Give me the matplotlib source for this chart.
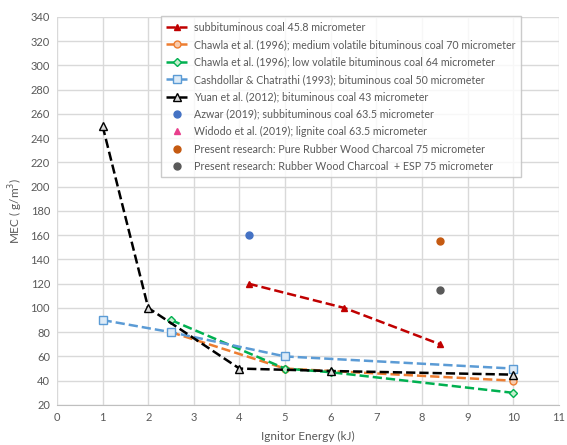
import numpy as np
import matplotlib.pyplot as plt

plt.rcParams['font.family'] = ['Lato', 'DejaVu Sans']

# dati
x_sub = [4.2, 6.3, 8.4]
y_sub = [120, 100, 70]
x_med = [2.5, 5, 10]
y_med = [80, 50, 40]
x_low = [2.5, 5, 6, 10]
y_low = [90, 50, 47, 30]
x_cash = [1, 2.5, 5, 10]
y_cash = [90, 80, 60, 50]
x_yuan = [1, 2, 4, 6, 10]
y_yuan = [250, 100, 50, 48, 45]
x_azwar = [4.2]
y_azwar = [160]
x_widodo = []
y_widodo = []
x_pure = [8.4]
y_pure = [155]
x_esp = [8.4]
y_esp = [115]

etichette = [
    "subbituminous coal 45.8 micrometer",
    "Chawla et al. (1996); medium volatile bituminous coal 70 micrometer",
    "Chawla et al. (1996); low volatile bituminous coal 64 micrometer",
    "Cashdollar & Chatrathi (1993); bituminous coal 50 micrometer",
    "Yuan et al. (2012); bituminous coal 43 micrometer",
    "Azwar (2019); subbituminous coal 63.5 micrometer",
    "Widodo et al. (2019); lignite coal 63.5 micrometer",
    "Present research: Pure Rubber Wood Charcoal 75 micrometer",
    "Present research: Rubber Wood Charcoal  + ESP 75 micrometer",
]

fig = plt.figure(figsize=(5.67, 4.45), dpi=100)
ax = fig.add_axes([0.1005, 0.09, 0.885, 0.872])

ax.plot(x_sub, y_sub, color="#C00000", ls="--", lw=1.8, marker="^", ms=5,
        label=etichette[0])
ax.plot(x_med, y_med, color="#ED7D31", ls="--", lw=1.8, marker="o", ms=5,
        mfc="#F8CBAD", label=etichette[1])
ax.plot(x_low, y_low, color="#00B050", ls="--", lw=1.8, marker="D", ms=4,
        mfc="#C6EFCE", label=etichette[2])
ax.plot(x_cash, y_cash, color="#5B9BD5", ls="--", lw=1.8, marker="s", ms=6,
        mfc="#DDEBF7", label=etichette[3])
ax.plot(x_yuan, y_yuan, color="#000000", ls="--", lw=1.8, marker="^", ms=6,
        mfc="#D9D9D9", label=etichette[4])
ax.plot(x_azwar, y_azwar, ls="none", marker="o", ms=5, color="#4472C4",
        label=etichette[5])
ax.plot(x_widodo, y_widodo, ls="none", marker="^", ms=5, color="#E83E8C",
        label=etichette[6])
ax.plot(x_pure, y_pure, ls="none", marker="o", ms=5, color="#C55A11",
        label=etichette[7])
ax.plot(x_esp, y_esp, ls="none", marker="o", ms=5, color="#595959",
        label=etichette[8])

ax.set_xlim(0, 11)
ax.set_ylim(20, 340)
ax.set_xticks(np.arange(0, 12, 1))
ax.set_yticks(np.arange(20, 341, 20))
ax.grid(True, color="#D9D9D9", lw=1)
ax.set_axisbelow(True)
for s in ["top", "right", "left"]:
    ax.spines[s].set_visible(False)
ax.spines["bottom"].set_color("#BFBFBF")
ax.tick_params(length=0, labelsize=8, colors="#595959", pad=5)
ax.set_xlabel("Ignitor Energy (kJ)", fontsize=8.5, color="#595959", labelpad=6)
ax.set_ylabel("MEC ( g/m$^3$)", fontsize=8.5, color="#595959", labelpad=4)

leg = ax.legend(loc="upper left", bbox_to_anchor=(0.2, 1.01), fontsize=7.7,
                frameon=True, fancybox=False, edgecolor="#BFBFBF",
                handlelength=2.0, labelspacing=0.6, borderpad=0.5,
                handletextpad=0.6, borderaxespad=0.3)
leg.get_frame().set_linewidth(1)
for t in leg.get_texts():
    t.set_color("#595959")

plt.savefig("out.png", dpi=100)
